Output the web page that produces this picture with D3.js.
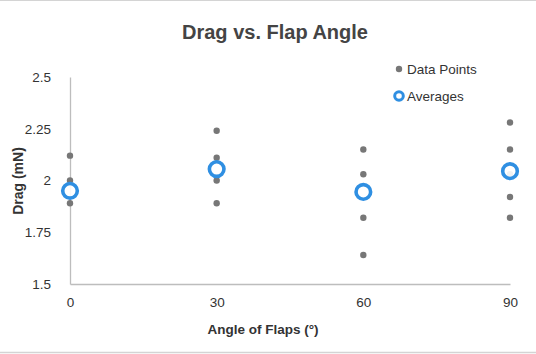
<!DOCTYPE html>
<html>
<head>
<meta charset="utf-8">
<script src="https://cdn.jsdelivr.net/npm/d3@7"></script>
<style>
  body { margin: 0; background: #fff; }
  text { font-family: "Liberation Sans", Arial, sans-serif; }
</style>
</head>
<body>
<script>
// values
var angles = [0, 30, 60, 90];
var pointAngles = [0, 0, 0, 30, 30, 30, 30, 60, 60, 60, 60, 90, 90, 90, 90, 90];
var pointDrag = [2.12, 2.0, 1.89, 2.24, 2.11, 2.0, 1.89, 2.15, 2.03, 1.82, 1.64, 2.28, 2.15, 2.03, 1.92, 1.82];
var avgDrag = [1.95, 2.055, 1.945, 2.045];
var yTicks = [1.5, 1.75, 2, 2.25, 2.5];

var W = 536, H = 354;
var svg = d3.select("body").append("svg").attr("width", W).attr("height", H);

// thin grey rules top and bottom
svg.append("line").attr("x1", 0).attr("x2", W).attr("y1", 0.5).attr("y2", 0.5).attr("stroke", "#d4d4d4");
svg.append("line").attr("x1", 0).attr("x2", W).attr("y1", 352.5).attr("y2", 352.5).attr("stroke", "#d4d4d4").attr("stroke-width", 1.5);

var x = d3.scaleLinear().domain([0, 90]).range([70, 510]);
var y = d3.scaleLinear().domain([1.5, 2.5]).range([284, 77]);

// axes
var yAxis = svg.append("g").attr("transform", "translate(70,0)")
  .call(d3.axisLeft(y).tickValues(yTicks).tickSize(0).tickPadding(19).tickFormat(d3.format("")));
var xAxis = svg.append("g").attr("transform", "translate(0,284)")
  .call(d3.axisBottom(x).tickValues(angles).tickSize(0).tickPadding(13));
[yAxis, xAxis].forEach(function (g) {
  g.select(".domain").attr("stroke", "#bdbdbd").attr("stroke-width", 1.3);
  g.selectAll("text").attr("font-size", 13.5).attr("fill", "#333")
    .style("font-family", "'Liberation Sans', Arial, sans-serif");
});

// data points
svg.selectAll(".pt").data(pointDrag).enter().append("circle")
  .attr("class", "pt")
  .attr("cx", function (d, i) { return x(pointAngles[i]); })
  .attr("cy", function (d) { return y(d); })
  .attr("r", 3.2).attr("fill", "#777");

// averages
svg.selectAll(".avg").data(avgDrag).enter().append("circle")
  .attr("class", "avg")
  .attr("cx", function (d, i) { return x(angles[i]); })
  .attr("cy", function (d) { return y(d); })
  .attr("r", 7.3).attr("fill", "#fff").attr("fill-opacity", 0.9)
  .attr("stroke", "#2f8fe2").attr("stroke-width", 3.6);

// title and labels
svg.append("text").attr("x", 275).attr("y", 39).attr("text-anchor", "middle")
  .attr("font-size", 20).attr("font-weight", "bold").attr("fill", "#444")
  .text("Drag vs. Flap Angle");
svg.append("text").attr("x", 263).attr("y", 334).attr("text-anchor", "middle")
  .attr("font-size", 13.5).attr("font-weight", "bold").attr("fill", "#333")
  .text("Angle of Flaps (°)");
svg.append("text").attr("transform", "translate(23,181) rotate(-90)").attr("text-anchor", "middle")
  .attr("font-size", 14).attr("font-weight", "bold").attr("fill", "#333")
  .text("Drag (mN)");

// legend
var lg = svg.append("g");
lg.append("circle").attr("cx", 399).attr("cy", 69).attr("r", 3.2).attr("fill", "#777");
lg.append("text").attr("x", 407).attr("y", 74).attr("font-size", 13.5).attr("fill", "#333").text("Data Points");
lg.append("circle").attr("cx", 399).attr("cy", 96).attr("r", 4.3)
  .attr("fill", "#fff").attr("stroke", "#2f8fe2").attr("stroke-width", 3);
lg.append("text").attr("x", 407).attr("y", 101).attr("font-size", 13.5).attr("fill", "#333").text("Averages");
</script>
</body>
</html>
